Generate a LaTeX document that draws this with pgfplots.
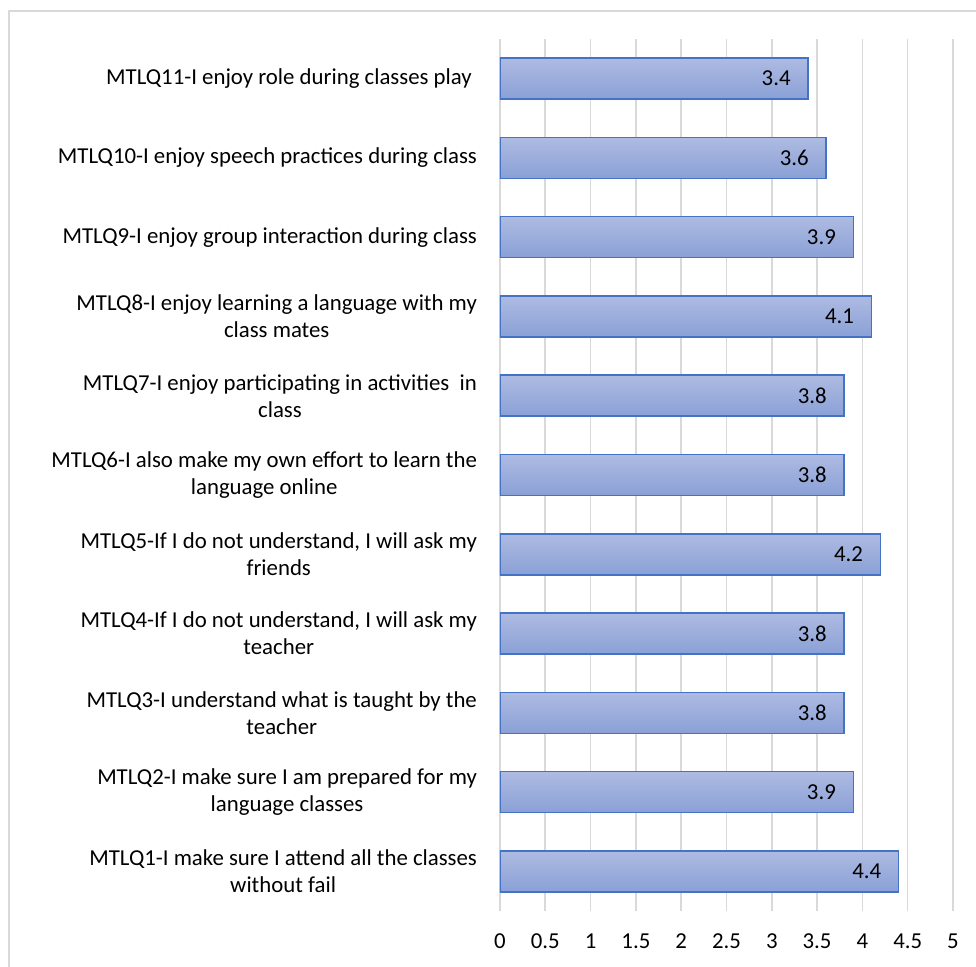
\documentclass[border=0pt]{standalone}
\usepackage{pgfplots}
\pgfplotsset{compat=1.18}
\usepackage{fontspec}
\setmainfont{Carlito}
\definecolor{gridc}{HTML}{D9D9D9}
\definecolor{barline}{HTML}{4472C4}
\definecolor{bartop}{HTML}{AEBBE2}
\definecolor{barbot}{HTML}{8AA0D6}
\tikzset{mybar/.style={draw=barline, line width=0.8pt, top color=bartop, bottom color=barbot}}
\begin{document}
\begin{tikzpicture}
\path[use as bounding box] (0,0) rectangle (488pt,483.5pt);
\draw[gridc, line width=0.8pt] (4.5pt,-2pt) -- (4.5pt,478pt) -- (490pt,478pt);
\begin{axis}[
  at={(250pt,28pt)}, anchor=south west,
  scale only axis, width=226.5pt, height=436pt,
  xbar, bar width=20.5pt, bar shift=0pt,
  xmin=0, xmax=5, ymin=0.5, ymax=11.5,
  xtick={0,0.5,...,5},
  ytick={1,...,11},
  yticklabels={
    {MTLQ1-I make sure I attend all the classes\\without fail},
    {MTLQ2-I make sure I am prepared for my\\language classes},
    {MTLQ3-I understand what is taught by the\\teacher},
    {MTLQ4-If I do not understand, I will ask my\\teacher},
    {MTLQ5-If I do not understand, I will ask my\\friends},
    {MTLQ6-I also make my own effort to learn the\\language online},
    {MTLQ7-I enjoy participating in activities~ in\\class},
    {MTLQ8-I enjoy learning a language with my\\class mates},
    {MTLQ9-I enjoy group interaction during class},
    {MTLQ10-I enjoy speech practices during class},
    {MTLQ11-I enjoy role during classes play~}
  },
  yticklabel style={align=center, font=\fontsize{11.4}{13.5}\selectfont, xshift=-8pt},
  xticklabel style={font=\fontsize{11.4}{13.5}\selectfont, yshift=-8pt},
  /pgf/number format/assume math mode=true,
  major tick length=0pt,
  axis line style={draw=none},
  xmajorgrids, grid style={gridc, line width=0.8pt},
  nodes near coords,
  every node near coord/.append style={anchor=east, xshift=-5pt, font=\fontsize{11.4}{13.5}\selectfont, text=black},
]
\addplot[mybar] coordinates {(4.4,1)};
\addplot[mybar] coordinates {(3.9,2)};
\addplot[mybar] coordinates {(3.8,3)};
\addplot[mybar] coordinates {(3.8,4)};
\addplot[mybar] coordinates {(4.2,5)};
\addplot[mybar] coordinates {(3.8,6)};
\addplot[mybar] coordinates {(3.8,7)};
\addplot[mybar] coordinates {(4.1,8)};
\addplot[mybar] coordinates {(3.9,9)};
\addplot[mybar] coordinates {(3.6,10)};
\addplot[mybar] coordinates {(3.4,11)};
\end{axis}
\end{tikzpicture}
\end{document}
